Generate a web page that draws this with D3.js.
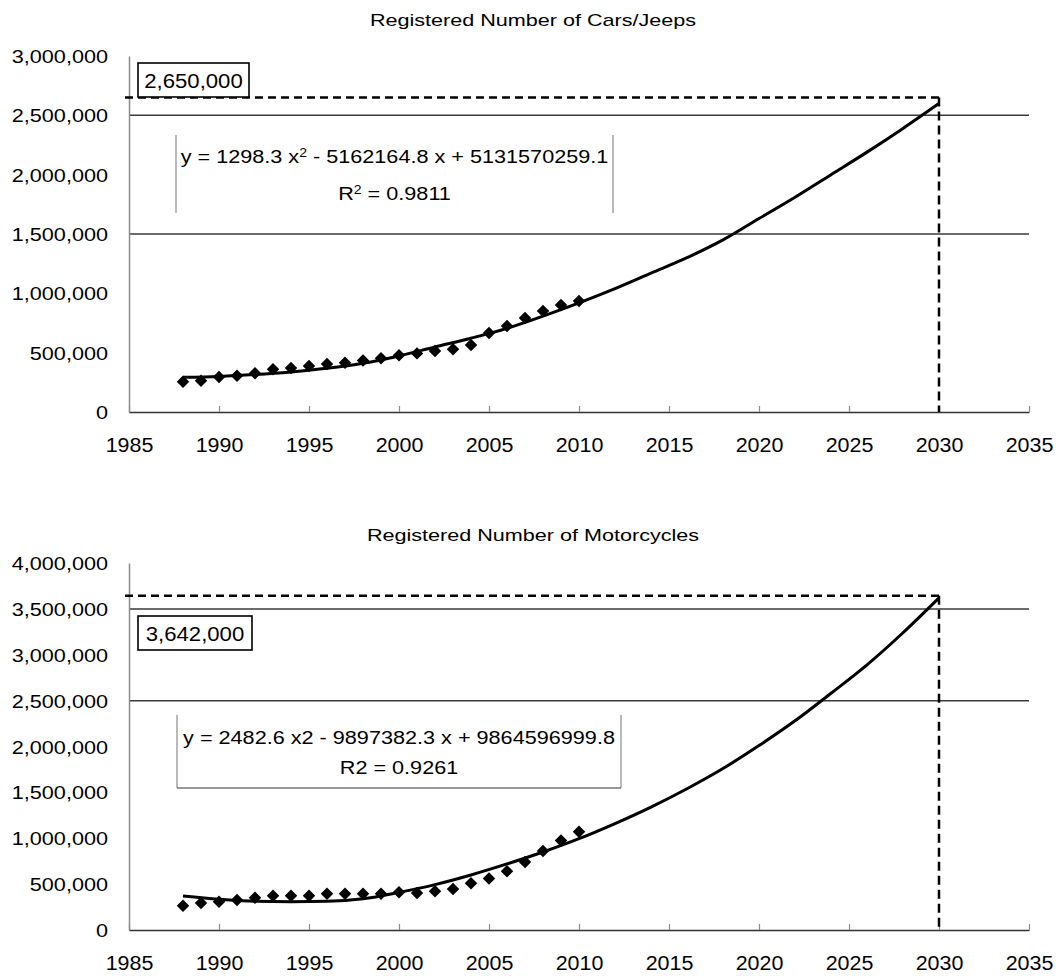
<!DOCTYPE html>
<html>
<head>
<meta charset="utf-8">
<script src="https://cdn.jsdelivr.net/npm/d3@7"></script>
<style>
  body { margin: 0; background: #fff; }
  svg { display: block; }
  text { font-family: "Liberation Sans", Arial, Helvetica, sans-serif; fill: #000; }
</style>
</head>
<body>
<svg id="chart" width="1061" height="976"></svg>
<script>
// ---- data ----
const years = [1988, 1989, 1990, 1991, 1992, 1993, 1994, 1995, 1996, 1997, 1998, 1999,
               2000, 2001, 2002, 2003, 2004, 2005, 2006, 2007, 2008, 2009, 2010];

const carsJeeps = [254000, 264000, 295000, 306000, 326000, 360000, 371000, 388000, 404000, 415000, 435000, 452000,
                   478000, 494000, 514000, 528000, 565000, 666000, 725000, 792000, 851000, 902000, 935000];

const motorcycles = [265000, 294000, 309000, 327000, 352000, 374000, 374000, 374000, 396000, 396000, 396000, 396000,
                     411000, 403000, 422000, 447000, 509000, 560000, 640000, 740000, 860000, 975000, 1070000];

// polynomial trend lines (2nd order) extended to the forecast year
const trendYears = [1988, 1990, 1992, 1994, 1996, 1998, 2000, 2002, 2004, 2006, 2008, 2010,
                    2012, 2014, 2016, 2018, 2020, 2022, 2024, 2026, 2028, 2030];
const carsTrend = [292000, 300000, 316000, 338000, 368000, 410000, 472000, 548000, 622000, 705000, 808000, 920000,
                   1040000, 1170000, 1300000, 1450000, 1630000, 1810000, 2000000, 2190000, 2390000, 2600000];
const motoTrend = [370000, 335000, 312000, 308000, 312000, 340000, 410000, 495000, 600000, 720000, 850000, 995000,
                   1160000, 1340000, 1540000, 1760000, 2010000, 2280000, 2580000, 2890000, 3240000, 3620000];

const xTicks = [1985, 1990, 1995, 2000, 2005, 2010, 2015, 2020, 2025, 2030, 2035];
const carsYTicks = [0, 500000, 1000000, 1500000, 2000000, 2500000, 3000000];
const motoYTicks = [0, 500000, 1000000, 1500000, 2000000, 2500000, 3000000, 3500000, 4000000];
const carsGridLines = [1500000, 2500000];
const motoGridLines = [2500000, 3500000];

const titles = ["Registered Number of Cars/Jeeps", "Registered Number of Motorcycles"];
const forecastYear = 2030;
const forecastValues = [2650000, 3642000];
const forecastLabels = ["2,650,000", "3,642,000"];

// ---- drawing ----
const svg = d3.select("#chart");
const fmt = d3.format(",");
const STRETCH = 1.2;   // horizontal stretch of the lettering

function stretchedText(g, x, y, str, size, anchor, sx) {
  return g.append("text")
    .attr("transform", `translate(${x},${y}) scale(${sx || STRETCH},1)`)
    .attr("text-anchor", anchor || "middle")
    .style("font-size", size + "px")
    .text(str);
}

function panel(cfg) {
  const g = svg.append("g");
  const x = d3.scaleLinear().domain([1985, 2035]).range([129, 1029]);
  const y = d3.scaleLinear().domain(cfg.yDomain).range(cfg.yRange);

  // title
  stretchedText(g, 533, cfg.titleY, cfg.title, 17, "middle", 1.27);

  // horizontal grid lines
  g.selectAll(".grid").data(cfg.grid).join("line")
    .attr("x1", x(1985)).attr("x2", x(2035))
    .attr("y1", d => y(d)).attr("y2", d => y(d))
    .attr("stroke", "#3a3a3a").attr("stroke-width", 1.5);

  // y axis
  const yAxis = g.append("g").attr("transform", `translate(${x(1985)},0)`)
    .call(d3.axisLeft(y).tickValues(cfg.yTicks).tickSize(0).tickPadding(0).tickFormat(fmt));
  yAxis.select(".domain").attr("stroke", "#8c8c8c").attr("stroke-width", 1.5);
  yAxis.selectAll(".tick text").remove();
  yAxis.selectAll(".tick").each(function (d) {
    stretchedText(d3.select(this), 108 - x(1985), 6.5, fmt(d), 18.5, "end", 1.17);
  });

  // x axis (ticks point inward)
  const xAxis = g.append("g").attr("transform", `translate(0,${y(0)})`)
    .call(d3.axisBottom(x).tickValues(xTicks).tickSizeInner(-6).tickSizeOuter(0).tickFormat(d3.format("d")));
  xAxis.select(".domain").attr("stroke", "#333").attr("stroke-width", 1.5);
  xAxis.selectAll(".tick line").attr("stroke", "#8c8c8c").attr("stroke-width", 1.2);
  xAxis.selectAll(".tick text").remove();
  xAxis.selectAll(".tick").each(function (d) {
    stretchedText(d3.select(this), 0, 40, String(d), 19.5, "middle", 1.1);
  });

  // forecast guides
  const fy = y(cfg.forecast);
  const fx = x(forecastYear);
  g.append("line").attr("x1", x(1985) - 4).attr("x2", fx).attr("y1", fy).attr("y2", fy)
    .attr("stroke", "#000").attr("stroke-width", 2.5).attr("stroke-dasharray", "8,5");
  g.append("line").attr("x1", fx).attr("x2", fx).attr("y1", fy).attr("y2", y(0))
    .attr("stroke", "#000").attr("stroke-width", 2.5).attr("stroke-dasharray", "9,5");

  // trend line
  g.append("path").datum(trendYears.map((t, i) => [t, cfg.trend[i]]))
    .attr("fill", "none").attr("stroke", "#000").attr("stroke-width", 3)
    .attr("d", d3.line().x(d => x(d[0])).y(d => y(d[1])).curve(d3.curveMonotoneX));

  // observed values
  const diamond = d3.symbol(d3.symbolSquare, 78);
  g.selectAll(".pt").data(years.map((t, i) => [t, cfg.values[i]])).join("path")
    .attr("d", diamond)
    .attr("transform", d => `translate(${x(d[0])},${y(d[1])}) rotate(45)`)
    .attr("fill", "#000");

  // forecast value box
  const b = cfg.box;
  g.append("rect").attr("x", b[0]).attr("y", b[1]).attr("width", b[2]).attr("height", b[3])
    .attr("fill", "#fff").attr("stroke", "#000").attr("stroke-width", 1.6);
  stretchedText(g, b[0] + b[2] / 2, b[1] + b[3] / 2 + 7.5, cfg.label, 20.5, "middle", 1.08);

  // equation label
  const e = cfg.eq;
  g.append("line").attr("x1", e.left).attr("x2", e.left).attr("y1", e.top).attr("y2", e.bottom)
    .attr("stroke", "#8c8c8c").attr("stroke-width", 1.2);
  g.append("line").attr("x1", e.right).attr("x2", e.right).attr("y1", e.top).attr("y2", e.bottom)
    .attr("stroke", "#8c8c8c").attr("stroke-width", 1.2);
  if (e.underline) {
    g.append("line").attr("x1", e.left).attr("x2", e.right).attr("y1", e.bottom).attr("y2", e.bottom)
      .attr("stroke", "#333").attr("stroke-width", 1.2);
  }
  const cx = (e.left + e.right) / 2;
  const l1 = stretchedText(g, cx, e.line1, "", 18.5, "middle", 1.17);
  e.text1.forEach(part => {
    l1.append("tspan").text(part.t)
      .attr("baseline-shift", part.sup ? "super" : null)
      .style("font-size", part.sup ? "12px" : null);
  });
  const l2 = stretchedText(g, cx, e.line2, "", 18.5, "middle", 1.17);
  e.text2.forEach(part => {
    l2.append("tspan").text(part.t)
      .attr("baseline-shift", part.sup ? "super" : null)
      .style("font-size", part.sup ? "12px" : null);
  });
}

panel({
  title: titles[0], titleY: 26,
  yDomain: [0, 3000000], yRange: [412, 56],
  yTicks: carsYTicks, grid: carsGridLines,
  values: carsJeeps, trend: carsTrend,
  forecast: forecastValues[0], label: forecastLabels[0],
  box: [138, 63, 111, 34],
  eq: {
    left: 176, right: 613, top: 135, bottom: 213, line1: 163, line2: 200, underline: false,
    text1: [{t: "y = 1298.3 x"}, {t: "2", sup: true}, {t: " - 5162164.8 x + 5131570259.1"}],
    text2: [{t: "R"}, {t: "2", sup: true}, {t: " = 0.9811"}]
  }
});

panel({
  title: titles[1], titleY: 541,
  yDomain: [0, 4000000], yRange: [930, 563],
  yTicks: motoYTicks, grid: motoGridLines,
  values: motorcycles, trend: motoTrend,
  forecast: forecastValues[1], label: forecastLabels[1],
  box: [138, 616, 114, 34],
  eq: {
    left: 177, right: 621, top: 715, bottom: 788, line1: 744, line2: 774, underline: true,
    text1: [{t: "y = 2482.6 x2 - 9897382.3 x + 9864596999.8"}],
    text2: [{t: "R2 = 0.9261"}]
  }
});
</script>
</body>
</html>
